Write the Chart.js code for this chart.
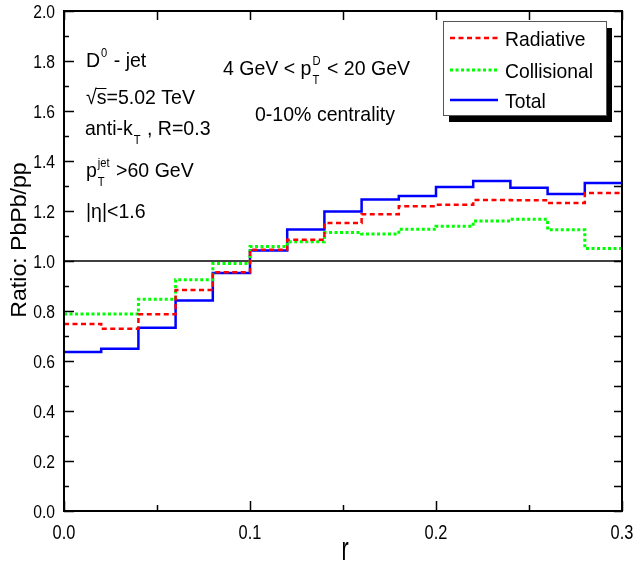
<!DOCTYPE html>
<html>
<head>
<meta charset="utf-8">
<script src="https://cdn.jsdelivr.net/npm/chart.js@4.4.1/dist/chart.umd.min.js"></script>
<style>
html, body { margin: 0; padding: 0; background: #fff; }
</style>
</head>
<body>
<canvas id="myChart" width="634" height="562"></canvas>
<script>
// bin edges in r, values are per bin (15 bins of 0.02)
const binEdges = [0.00, 0.02, 0.04, 0.06, 0.08, 0.10, 0.12, 0.14, 0.16, 0.18, 0.20, 0.22, 0.24, 0.26, 0.28, 0.30];
const radiative = [0.748, 0.729, 0.787, 0.884, 0.955, 1.045, 1.085, 1.152, 1.187, 1.219, 1.225, 1.244, 1.243, 1.232, 1.272];
const collisional = [0.788, 0.788, 0.847, 0.925, 0.990, 1.058, 1.077, 1.114, 1.108, 1.127, 1.139, 1.160, 1.167, 1.125, 1.050];
const total = [0.636, 0.649, 0.733, 0.842, 0.952, 1.042, 1.126, 1.198, 1.246, 1.260, 1.296, 1.320, 1.293, 1.268, 1.312];
const seriesNames = ['Radiative', 'Collisional', 'Total'];
const refValue = 1.0;
const xTicks = [0.0, 0.1, 0.2, 0.3];
const xMinor = [0.05, 0.15, 0.25];
const yTicks = [0.0, 0.2, 0.4, 0.6, 0.8, 1.0, 1.2, 1.4, 1.6, 1.8, 2.0];
const yMinor = [0.1, 0.3, 0.5, 0.7, 0.9, 1.1, 1.3, 1.5, 1.7, 1.9];

const FONT = '"Liberation Sans", Arial, sans-serif';

function toSteps(vals) {
    // one point per left edge, last value repeated at the right edge
    return binEdges.map((x, i) => ({ x: x, y: vals[Math.min(i, vals.length - 1)] }));
}

function drawText(ctx, str, x, y, size, sx, sy, align) {
    ctx.save();
    ctx.font = size + 'px ' + FONT;
    ctx.translate(x, y);
    ctx.scale(sx, sy || 1);
    ctx.textAlign = align || 'left';
    ctx.textBaseline = 'alphabetic';
    ctx.fillText(str, 0, 0);
    const w = ctx.measureText(str).width * sx;
    ctx.restore();
    return w;
}

// parts: plain strings or {sup, sub}
function richText(ctx, x, y, parts, size, sx) {
    let cx = x;
    parts.forEach(p => {
        if (typeof p === 'string') {
            cx += drawText(ctx, p, cx, y, size, sx);
        } else {
            let w1 = 0, w2 = 0;
            if (p.sup) w1 = drawText(ctx, p.sup, cx + 1, y - 10, 12, sx);
            if (p.sub) w2 = drawText(ctx, p.sub, cx + 1, y + 9, 12, sx);
            cx += Math.max(w1, w2) + 2;
        }
    });
    return cx - x;
}

const decorPlugin = {
    id: 'decor',
    afterDraw(chart) {
        const ctx = chart.ctx;
        const a = chart.chartArea;
        const xs = chart.scales.x, ys = chart.scales.y;
        ctx.save();
        ctx.fillStyle = '#000';
        ctx.strokeStyle = '#000';

        // frame
        ctx.lineWidth = 2;
        ctx.strokeRect(a.left, a.top, a.right - a.left, a.bottom - a.top);

        // ticks, pointing inward
        ctx.lineWidth = 1.5;
        ctx.beginPath();
        xTicks.forEach(v => {
            const px = Math.round(xs.getPixelForValue(v)) + 0.5;
            ctx.moveTo(px, a.bottom); ctx.lineTo(px, a.bottom - 10);
            ctx.moveTo(px, a.top); ctx.lineTo(px, a.top + 9);
        });
        xMinor.forEach(v => {
            const px = Math.round(xs.getPixelForValue(v)) + 0.5;
            ctx.moveTo(px, a.bottom); ctx.lineTo(px, a.bottom - 6);
            ctx.moveTo(px, a.top); ctx.lineTo(px, a.top + 9);
        });
        yTicks.forEach(v => {
            const py = Math.round(ys.getPixelForValue(v)) + 0.5;
            ctx.moveTo(a.left, py); ctx.lineTo(a.left + 10, py);
            ctx.moveTo(a.right, py); ctx.lineTo(a.right - 8, py);
        });
        yMinor.forEach(v => {
            const py = Math.round(ys.getPixelForValue(v)) + 0.5;
            ctx.moveTo(a.left, py); ctx.lineTo(a.left + 5, py);
            ctx.moveTo(a.right, py); ctx.lineTo(a.right - 8, py);
        });
        ctx.stroke();

        // tick labels
        yTicks.forEach(v => {
            drawText(ctx, v.toFixed(1), 55, ys.getPixelForValue(v) + 6.5, 18, 0.87, 1, 'right');
        });
        xTicks.forEach(v => {
            drawText(ctx, v.toFixed(1), xs.getPixelForValue(v), 539, 20, 0.82, 1.05, 'center');
        });

        // axis titles
        drawText(ctx, 'r', 345, 560, 24, 0.9, 1.4, 'center');
        ctx.save();
        ctx.translate(26, 240);
        ctx.rotate(-Math.PI / 2);
        drawText(ctx, 'Ratio: PbPb/pp', 0, 0, 22, 1.05, 1, 'center');
        ctx.restore();

        // annotations
        const fs = 21, sc = 0.93;
        richText(ctx, 86, 67, ['D', { sup: '0' }, ' - jet'], fs, sc);
        let w = drawText(ctx, '\u221A', 86, 104, fs, sc);
        const sw = drawText(ctx, 's', 86 + w, 104, fs, sc);
        ctx.lineWidth = 1;
        ctx.beginPath();
        ctx.moveTo(86 + w - 1, 88.5); ctx.lineTo(86 + w + sw, 88.5);
        ctx.stroke();
        drawText(ctx, '=5.02 TeV', 86 + w + sw, 104, fs, sc);
        richText(ctx, 85, 135, ['anti-k', { sub: 'T' }, ' , R=0.3'], fs, sc);
        richText(ctx, 86, 177, ['p', { sup: 'jet', sub: 'T' }, ' >60 GeV'], fs, sc);
        drawText(ctx, '|\u03B7|<1.6', 86, 218, fs, sc);
        richText(ctx, 223, 75, ['4 GeV < p', { sup: 'D', sub: 'T' }, ' < 20 GeV'], fs, sc);
        drawText(ctx, '0-10% centrality', 255, 121, fs, sc);

        // legend with drop shadow
        const lx = 443, ly = 21, lw = 163, lh = 94;
        ctx.fillStyle = '#000';
        ctx.fillRect(lx + 6, ly + 7, lw, lh);
        ctx.fillStyle = '#fff';
        ctx.fillRect(lx, ly, lw, lh);
        ctx.strokeStyle = '#555';
        ctx.lineWidth = 1;
        ctx.strokeRect(lx + 0.5, ly + 0.5, lw, lh);
        const rows = [38, 70, 100];
        chart.data.datasets.slice(0, 3).forEach((ds, i) => {
            ctx.save();
            ctx.strokeStyle = ds.borderColor;
            ctx.lineWidth = ds.borderWidth;
            ctx.setLineDash(ds.borderDash || []);
            ctx.beginPath();
            ctx.moveTo(450, rows[i]); ctx.lineTo(498, rows[i]);
            ctx.stroke();
            ctx.restore();
            ctx.fillStyle = '#000';
            drawText(ctx, seriesNames[i], 505, rows[i] + 7.5, 21, 0.92);
        });
        ctx.restore();
    }
};

const ctx = document.getElementById('myChart');
const myChart = new Chart(ctx, {
    type: 'line',
    data: {
        datasets: [
            {
                label: seriesNames[0],
                data: toSteps(radiative),
                borderColor: '#ff0000',
                borderWidth: 2.5,
                borderDash: [5, 3.5],
                stepped: 'before',
                pointRadius: 0,
                fill: false
            },
            {
                label: seriesNames[1],
                data: toSteps(collisional),
                borderColor: '#00ff00',
                borderWidth: 3,
                borderDash: [3, 2.5],
                stepped: 'before',
                pointRadius: 0,
                fill: false
            },
            {
                label: seriesNames[2],
                data: toSteps(total),
                borderColor: '#0000ff',
                borderWidth: 2.5,
                stepped: 'before',
                pointRadius: 0,
                fill: false
            },
            {
                label: 'ref',
                data: [{ x: binEdges[0], y: refValue }, { x: binEdges[binEdges.length - 1], y: refValue }],
                borderColor: '#000',
                borderWidth: 1.5,
                pointRadius: 0,
                fill: false
            }
        ]
    },
    options: {
        responsive: false,
        animation: false,
        devicePixelRatio: 1,
        layout: {
            padding: { left: 64, top: 11, right: 12, bottom: 51 }
        },
        plugins: {
            legend: { display: false },
            tooltip: { enabled: false }
        },
        scales: {
            x: { type: 'linear', min: 0, max: 0.3, display: false },
            y: { type: 'linear', min: 0, max: 2.0, display: false }
        }
    },
    plugins: [decorPlugin]
});
</script>
</body>
</html>
